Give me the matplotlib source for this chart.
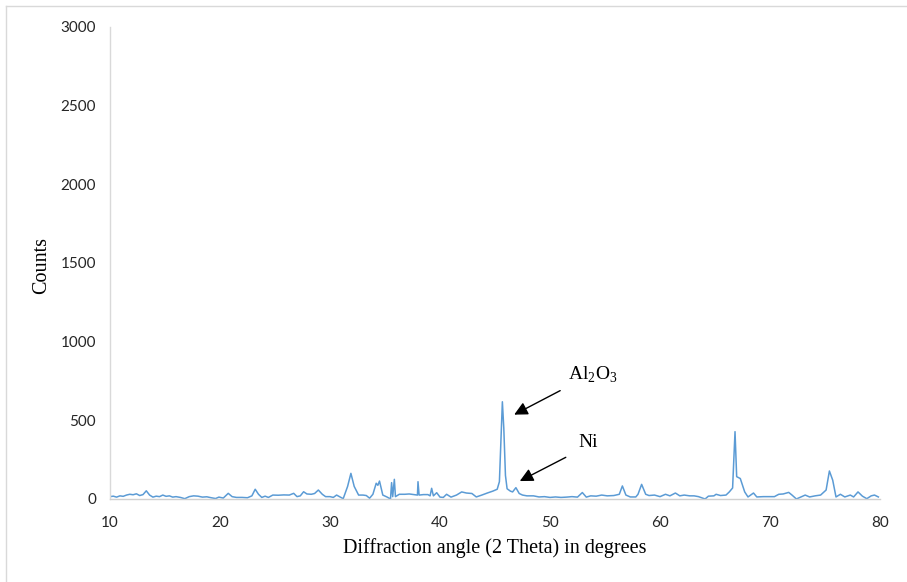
import matplotlib
matplotlib.use("Agg")
import matplotlib.pyplot as plt
from matplotlib.lines import Line2D

plt.rcParams['mathtext.fontset'] = 'custom'
plt.rcParams['mathtext.rm'] = 'Liberation Serif'

two_theta = [10.0, 10.3, 10.6, 10.9, 11.2, 11.5, 11.8, 12.1, 12.4, 12.7, 13.0, 13.3, 13.6, 13.9,
             14.2, 14.5, 14.8, 15.1, 15.4, 15.7, 16.0, 16.4, 16.8, 17.2, 17.6, 18.0, 18.4, 18.8,
             19.2, 19.6, 19.9, 20.3, 20.75, 21.1, 21.5, 22.0, 22.5, 22.9, 23.2, 23.5, 23.8, 24.1,
             24.4, 24.8, 25.3, 25.8, 26.3, 26.7, 27.0, 27.3, 27.6, 27.9, 28.3, 28.6, 28.94, 29.3,
             29.6, 30.0, 30.3, 30.6, 31.0, 31.2, 31.6, 31.9, 32.2, 32.6, 33.0, 33.3, 33.6, 33.9,
             34.2, 34.35, 34.5, 34.8, 35.2, 35.5, 35.6, 35.7, 35.85, 35.95, 36.3, 36.8, 37.2, 37.6,
             37.95, 38.0, 38.1, 38.5, 38.9, 39.1, 39.24, 39.4, 39.7, 40.0, 40.3, 40.6, 41.0, 41.5,
             41.97, 42.4, 42.9, 43.3, 43.8, 44.3, 44.8, 45.2, 45.4, 45.55, 45.67, 45.8, 45.95, 46.1,
             46.4, 46.6, 46.9, 47.2, 47.5, 47.9, 48.5, 49.0, 49.5, 50.0, 50.5, 51.0, 51.5, 52.0,
             52.5, 52.94, 53.3, 53.7, 54.2, 54.7, 55.2, 55.8, 56.3, 56.58, 56.9, 57.3, 57.8, 58.0,
             58.33, 58.7, 59.0, 59.5, 60.0, 60.5, 60.9, 61.4, 61.8, 62.2, 62.7, 63.1, 63.5, 64.1,
             64.4, 64.9, 65.1, 65.5, 66.0, 66.3, 66.6, 66.82, 66.97, 67.3, 67.7, 68.0, 68.5, 68.8,
             69.4, 70.0, 70.4, 70.8, 71.2, 71.7, 72.0, 72.4, 73.2, 73.6, 74.1, 74.6, 75.1, 75.4,
             75.7, 76.0, 76.4, 76.8, 77.3, 77.6, 78.0, 78.4, 78.8, 79.2, 79.5, 79.85]
counts = [15, 18, 12, 20, 17, 25, 30, 27, 33, 22, 28, 52, 25, 12,
          18, 15, 25, 17, 20, 12, 15, 10, 2, 15, 20, 18, 12, 14,
          8, 3, 12, 6, 36, 15, 10, 10, 8, 20, 62, 30, 10, 18,
          10, 25, 24, 26, 25, 36, 15, 20, 46, 32, 30, 35, 57, 30,
          15, 15, 10, 25, 10, 2, 80, 163, 80, 25, 25, 22, 5, 30,
          100, 87, 114, 25, 12, 0, 104, 15, 125, 15, 30, 30, 32, 28,
          25, 110, 25, 28, 28, 20, 68, 20, 40, 12, 10, 30, 12, 25,
          45, 38, 35, 13, 25, 38, 50, 62, 110, 400, 618, 450, 150, 65,
          50, 45, 72, 35, 25, 20, 20, 13, 15, 10, 13, 10, 12, 15,
          12, 41, 12, 20, 18, 25, 20, 22, 30, 83, 25, 13, 13, 30,
          93, 30, 22, 25, 15, 30, 20, 38, 20, 25, 20, 20, 15, 0,
          18, 20, 30, 22, 25, 45, 70, 428, 142, 130, 45, 13, 38, 13,
          15, 15, 15, 30, 32, 42, 25, 0, 25, 13, 20, 25, 57, 178,
          120, 13, 30, 13, 25, 13, 45, 18, 2, 20, 25, 13]

x_ticks = [10, 20, 30, 40, 50, 60, 70, 80]
y_ticks = [0, 500, 1000, 1500, 2000, 2500, 3000]

fig = plt.figure(figsize=(9.07, 5.82), dpi=100)
ax = fig.add_axes([110/907, 83/582, 770/907, 472/582])

ax.plot(two_theta, counts, color='#5B9BD5', linewidth=1.1)

ax.set_xlim(10, 80)
ax.set_ylim(0, 3000)
ax.set_xticks(x_ticks)
ax.set_yticks(y_ticks)
ax.tick_params(length=0, labelsize=11, colors='#262626')
for lab in ax.get_xticklabels() + ax.get_yticklabels():
    lab.set_fontfamily('Lato')
ax.tick_params(axis='x', pad=12)
ax.tick_params(axis='y', pad=10)

for s in ['top', 'right']:
    ax.spines[s].set_visible(False)
ax.spines['left'].set_color('#D9D9D9')
ax.spines['bottom'].set_color('#D0D0D0')
ax.spines['left'].set_linewidth(1.0)
ax.spines['bottom'].set_linewidth(1.0)

ax.set_xlabel('Diffraction angle (2 Theta) in degrees', fontfamily='Liberation Serif',
              fontsize=14.5, color='black', va='center')
ax.xaxis.set_label_coords((495 - 110) / 770, (499 - 548) / 472)
ax.set_ylabel('Counts', fontfamily='Liberation Serif', fontsize=14.5, color='black', va='center')
ax.yaxis.set_label_coords((42 - 110) / 770, (499 - 265) / 472)

ax.annotate('', xy=(46.52, 528), xytext=(51.15, 697),
            arrowprops=dict(arrowstyle='-|>', color='black', lw=1.0, mutation_scale=20))
ax.annotate('', xy=(47.03, 106), xytext=(51.66, 273),
            arrowprops=dict(arrowstyle='-|>', color='black', lw=1.0, mutation_scale=20))
ax.text(51.6, 756, r'Al$_\mathrm{2}$O$_\mathrm{3}$', fontfamily='Liberation Serif', fontsize=14,
        ha='left', va='baseline')
ax.text(52.6, 330, 'Ni', fontfamily='Liberation Serif', fontsize=14, ha='left', va='baseline')

fig.add_artist(Line2D([6/907, 6/907], [0, 1 - 5.5/582], transform=fig.transFigure,
                      color='#D9D9D9', lw=1.0))
fig.add_artist(Line2D([6/907, 1], [1 - 5.5/582, 1 - 5.5/582], transform=fig.transFigure,
                      color='#D9D9D9', lw=1.0))

fig.savefig('out.png', dpi=100)
